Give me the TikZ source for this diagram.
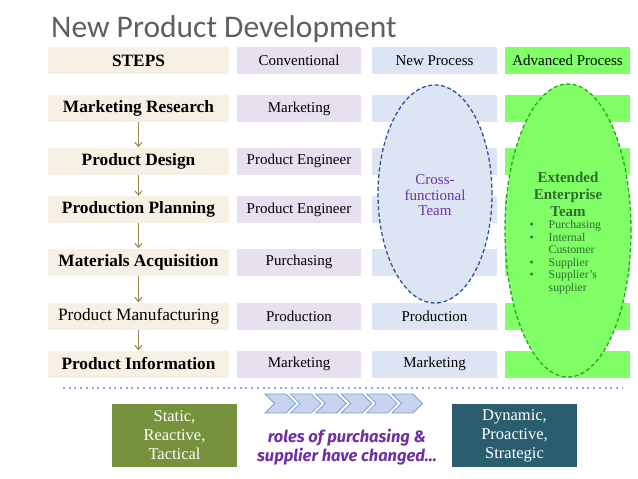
\documentclass[tikz,border=0pt]{standalone}
\usepackage{fontspec}
\setmainfont{Liberation Serif}
\newfontfamily\titlefont{Carlito}
\newfontfamily\comicfont{Fira Sans}
\usetikzlibrary{shapes.geometric,arrows.meta}
\definecolor{stepbg}{HTML}{F6F1E4}
\definecolor{convbg}{HTML}{E7E1EF}
\definecolor{newbg}{HTML}{DDE5F4}
\definecolor{advbg}{HTML}{80FF66}
\definecolor{blueline}{HTML}{2F5597}
\definecolor{greenline}{HTML}{1FAA1F}
\definecolor{arrowcol}{HTML}{9C8A52}
\definecolor{titlegrey}{HTML}{5F5F5F}
\definecolor{teamgreen}{HTML}{2E6B2E}
\definecolor{purp}{HTML}{7030A0}
\definecolor{staticbg}{HTML}{76923C}
\definecolor{dynbg}{HTML}{2A5E6E}
\definecolor{chevfill}{HTML}{C6D4EE}
\definecolor{chevline}{HTML}{7F9FD6}
\definecolor{dotcol}{HTML}{8FAADC}
\tikzset{
  cell/.style={rectangle, inner sep=0pt, minimum height=27pt},
  stepcell/.style={cell, fill=stepbg, minimum width=181pt, font=\fontsize{17.3}{19}\selectfont},
  convcell/.style={cell, fill=convbg, minimum width=124pt, font=\fontsize{15}{17}\selectfont},
  newcell/.style={cell, fill=newbg, minimum width=125pt, font=\fontsize{15}{17}\selectfont},
  advcell/.style={cell, fill=advbg, minimum width=125pt, font=\fontsize{15}{17}\selectfont},
  steparrow/.style={draw=arrowcol, line width=1.1pt, -{Straight Barb[length=4pt,width=7pt]}},
  teamellipse/.style={ellipse, inner sep=0pt, line width=1.3pt, dash pattern=on 4pt off 2.5pt},
  bottombox/.style={rectangle, inner sep=0pt, minimum width=125pt, minimum height=63pt, text=white, align=center, font=\fontsize{16.5}{19}\selectfont},
  chev/.style={fill=chevfill, draw=chevline, line width=0.8pt, line join=miter},
}
\begin{document}
\begin{tikzpicture}[x=1pt,y=-1pt]
\useasboundingbox (0,0) rectangle (638,479);
\fill[white] (0,0) rectangle (638,479);
% title
\node[anchor=base west, inner sep=0pt, text=titlegrey, font=\titlefont\fontsize{31.5}{33}\selectfont] (title) at (51,37.5) {New Product Development};
% header row
\node[stepcell] (h1) at (138.5,60.5) {\bfseries STEPS};
\node[convcell] (h2) at (299,60.5) {Conventional};
\node[newcell]  (h3) at (434.5,60.5) {New Process};
\node[advcell]  (h4) at (567.5,60.5) {Advanced Process};
% rows
\foreach \n/\y/\st/\cv in {
  1/108.5/{\bfseries Marketing Research}/Marketing,
  2/161/{\bfseries Product Design}/Product Engineer,
  3/209.5/{\bfseries Production Planning}/Product Engineer,
  4/262/{\bfseries Materials Acquisition}/Purchasing,
  5/316/{Product Manufacturing}/Production,
  6/364/{\bfseries Product Information}/Marketing}{
  \node[stepcell] (s\n) at (138.5,\y) {\st};
  \node[convcell] (c\n) at (299,\y) {\cv};
  \node[advcell]  (a\n) at (567.5,\y) {};
}
\foreach \n/\y in {1/108.5,2/161,3/209.5,4/262}{
  \node[newcell] (p\n) at (434.5,\y) {};
}
\node[newcell] (p5) at (434.5,316) {Production};
\node[newcell] (p6) at (434.5,364) {Marketing};
% arrows
\foreach \a/\b in {s1/s2,s2/s3,s3/s4,s4/s5,s5/s6}{
  \draw[steparrow] (\a.south) -- (\b.north);
}
% ellipses
\node[teamellipse, fill=newbg, draw=blueline, minimum width=114pt, minimum height=218pt] (cft) at (435,194) {};
\node[teamellipse, fill=advbg, draw=greenline, minimum width=126pt, minimum height=293pt] (eet) at (568,230.5) {};
\node[text=purp, align=center, font=\fontsize{15}{15.5}\selectfont] (cfttext) at (435,195.5) {Cross-\\functional\\Team};
\node[text=teamgreen, align=center, font=\bfseries\fontsize{15}{17}\selectfont] (eettext) at (568,194) {Extended\\Enterprise\\Team};
\node[anchor=north west, inner sep=0pt, text=teamgreen, font=\fontsize{11.8}{12.5}\selectfont] (eetlist) at (529.5,219.8) {%
  \begin{tabular}{@{}p{19pt}@{}l@{}}
  \textbullet & Purchasing\\
  \textbullet & Internal\\
   & Customer\\
  \textbullet & Supplier\\
  \textbullet & Supplier's\\
   & supplier
  \end{tabular}};
% dotted separator
\coordinate (dotL) at (63,388);
\coordinate (dotR) at (622,388);
\draw[dotcol, line width=2pt, dash pattern=on 2pt off 3.7pt] (dotL) -- (dotR);
% bottom boxes
\node[bottombox, fill=staticbg] (static) at (174.5,435.5) {Static,\\Reactive,\\Tactical};
\node[bottombox, fill=dynbg] (dynamic) at (514.5,435.5) {Dynamic,\\Proactive,\\Strategic};
% chevrons
\foreach \i in {0,...,5}{
  \pgfmathsetmacro{\cx}{265+25.4*\i}
  \draw[chev] (\cx,394) -- ++(21,0) -- ++(9.5,9.5) -- ++(-9.5,9.5) -- ++(-21,0) -- ++(9.5,-9.5) -- cycle;
}
\node[text=purp, align=center, font=\comicfont\bfseries\itshape\fontsize{16.5}{19}\selectfont] (roles) at (347,447.5) {roles of purchasing \&\\supplier have changed...};
\end{tikzpicture}
\end{document}
